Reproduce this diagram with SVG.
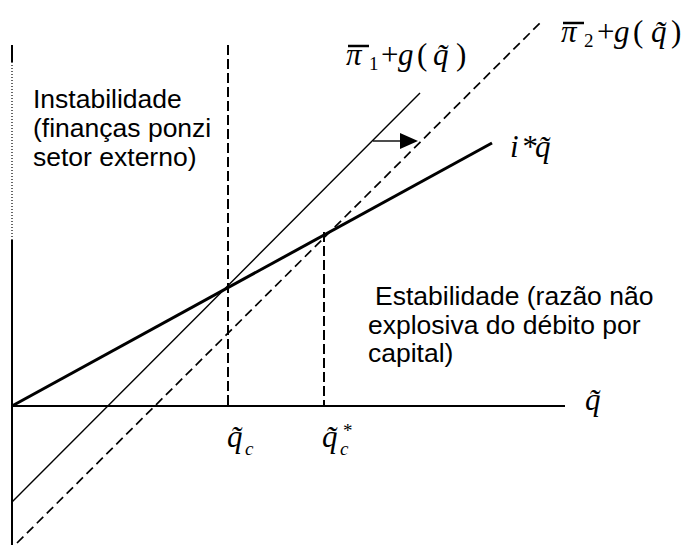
<svg xmlns="http://www.w3.org/2000/svg" width="683" height="545" viewBox="0 0 683 545">
<style>
.ln{stroke:#000;fill:none}
.sans{font-family:"Liberation Sans",Arial,sans-serif;font-size:26.5px;fill:#000}
.m{font-family:"Liberation Serif","Times New Roman",serif;font-size:31px;fill:#000}
.it{font-style:italic}
.sub{font-size:19px}
</style>
<rect width="683" height="545" fill="#fff"/>
<g id="axes">
<line class="ln" x1="12" y1="45" x2="12" y2="62" stroke-width="2"/>
<line class="ln" x1="12" y1="62" x2="12" y2="240" stroke-width="1.2" stroke-dasharray="1 2"/>
<line class="ln" x1="12" y1="240" x2="12" y2="545" stroke-width="2"/>
<line class="ln" x1="12" y1="406" x2="565" y2="406" stroke-width="1.8"/>
</g>
<g id="connectors">
<line class="ln" x1="12" y1="502" x2="420" y2="93" stroke-width="1.4"/>
<line class="ln" x1="17" y1="543" x2="540" y2="23" stroke-width="1.7" stroke-dasharray="9 5"/>
<line class="ln" x1="12" y1="406" x2="492" y2="143" stroke-width="3"/>
<line class="ln" x1="228" y1="45" x2="228" y2="406" stroke-width="2" stroke-dasharray="10 4"/>
<line class="ln" x1="324" y1="232" x2="324" y2="406" stroke-width="2" stroke-dasharray="10 4"/>
<line class="ln" x1="373" y1="141" x2="402" y2="141" stroke-width="1.4"/>
<polygon points="400,133 418,141 400,149" fill="#000"/>
</g>
<g id="region-instab">
<text class="sans" x="33" y="108">Instabilidade</text>
<text class="sans" x="33" y="137">(finanças ponzi</text>
<text class="sans" x="33" y="166">setor externo)</text>
</g>
<g id="region-estab">
<text class="sans" x="375" y="305">Estabilidade (razão não</text>
<text class="sans" x="368" y="334">explosiva do débito por</text>
<text class="sans" x="368" y="362">capital)</text>
</g>
<g id="label-pi1">
<text class="m" y="65"><tspan class="it" x="346">π</tspan><tspan class="sub" x="369" y="70">1</tspan><tspan x="381" y="65">+</tspan><tspan class="it" x="398">g</tspan><tspan x="417">(</tspan><tspan class="it" x="433">q̃</tspan><tspan x="456">)</tspan></text>
<line class="ln" x1="348" y1="46" x2="369" y2="46" stroke-width="2.5"/>
</g>
<g id="label-pi2">
<text class="m" y="42"><tspan class="it" x="561">π</tspan><tspan class="sub" x="584" y="47">2</tspan><tspan x="597" y="42">+</tspan><tspan class="it" x="614">g</tspan><tspan x="633">(</tspan><tspan class="it" x="651">q̃</tspan><tspan x="671">)</tspan></text>
<line class="ln" x1="563" y1="23" x2="584" y2="23" stroke-width="2.5"/>
</g>
<g id="label-iq">
<text class="m it" x="510" y="157">i<tspan x="521">*</tspan><tspan x="535">q̃</tspan></text>
</g>
<g id="label-q-axis">
<text class="m it" x="585" y="410">q̃</text>
</g>
<g id="label-qc">
<text class="m it" x="227" y="447">q̃<tspan class="sub" x="245" y="455">c</tspan></text>
</g>
<g id="label-qcstar">
<text class="m it" x="322" y="447">q̃<tspan class="sub" x="340" y="455">c</tspan><tspan class="sub" x="343" y="437" font-style="normal">*</tspan></text>
</g>
</svg>
